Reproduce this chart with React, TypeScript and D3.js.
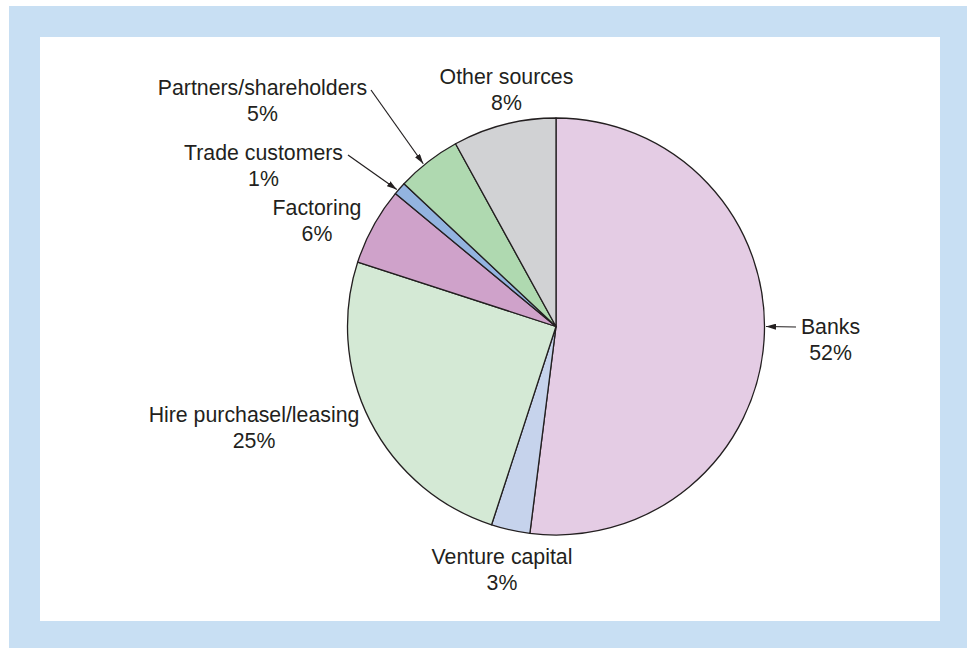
import React from "react";
import * as d3 from "d3";

const categories = [
  "Banks",
  "Venture capital",
  "Hire purchasel/leasing",
  "Factoring",
  "Trade customers",
  "Partners/shareholders",
  "Other sources",
];
const values = [52, 3, 25, 6, 1, 5, 8];
const colors = ["#e4cce4", "#c6d3ec", "#d4e9d5", "#cfa2ca", "#93b4e0", "#afd9b0", "#d1d2d4"];

// label layout: center x, first line center y
const labelPos: [number, number][] = [
  [830.5, 327],
  [502, 557],
  [254, 415],
  [317, 208],
  [263.5, 153],
  [262.5, 88],
  [506.5, 77],
];

// arrows: [label index, start x, start y, angle deg on pie]
const arrows: [number, number, number, number][] = [
  [0, 796, 327, 90],
  [4, 348, 155, 310.7],
  [5, 371, 90, 320.8],
];

const W = 967;
const H = 648;
const cx = 556;
const cy = 326.5;
const R = 208.5;

export default function App() {
  const pie = d3.pie<number>().sort(null).value((d) => d);
  const arcs = pie(values);
  const arcGen = d3.arc<d3.PieArcDatum<number>>().innerRadius(0).outerRadius(R);
  const textColor = "#231f20";

  return (
    <svg
      width={W}
      height={H}
      style={{ position: "absolute", left: 0, top: 0, display: "block" }}
      fontFamily="'Liberation Sans', Arial, sans-serif"
    >
      <defs>
        <marker id="ah" viewBox="0 0 10 6" refX="10" refY="3" markerWidth="10" markerHeight="6" markerUnits="userSpaceOnUse" orient="auto">
          <path d="M0,0 L10,3 L0,6 Z" fill={textColor} />
        </marker>
      </defs>
      <rect x={9} y={6} width={W - 9} height={H - 6} fill="#c8dff3" />
      <rect x={40} y={37} width={900} height={584} fill="#ffffff" />
      <g transform={`translate(${cx},${cy})`}>
        {arcs.map((a, i) => (
          <path key={i} d={arcGen(a) || ""} fill={colors[i]} stroke={textColor} strokeWidth={1.3} strokeLinejoin="round" />
        ))}
      </g>
      {arrows.map(([li, sx, sy, ang], k) => {
        const rad = (ang * Math.PI) / 180;
        const ex = cx + (R + 1.5) * Math.sin(rad);
        const ey = cy - (R + 1.5) * Math.cos(rad);
        return (
          <line key={k} x1={sx} y1={sy} x2={ex} y2={ey} stroke={textColor} strokeWidth={1.2} markerEnd="url(#ah)" />
        );
      })}
      {categories.map((c, i) => (
        <g key={c} fill={textColor} fontSize={21.3} textAnchor="middle">
          <text x={labelPos[i][0]} y={labelPos[i][1]} dy="0.35em">{c}</text>
          <text x={labelPos[i][0]} y={labelPos[i][1] + 26} dy="0.35em">{values[i]}%</text>
        </g>
      ))}
    </svg>
  );
}
